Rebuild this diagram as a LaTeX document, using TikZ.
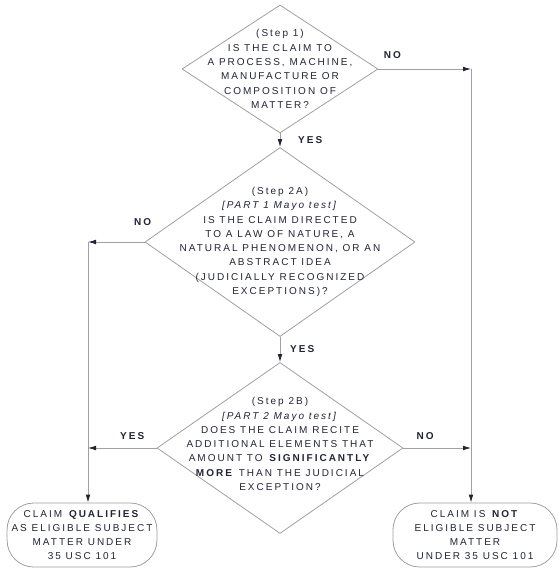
\documentclass[tikz,border=0pt]{standalone}
\usepackage{fontspec}
\setmainfont[LetterSpace=20]{Liberation Sans}
\usetikzlibrary{arrows.meta,positioning,shapes.geometric}
\definecolor{flowgray}{RGB}{160,160,160}
\definecolor{flowink}{RGB}{35,35,55}
\tikzset{
 decision/.style={draw=flowgray,shape=diamond,inner sep=0pt,line width=.6pt},
 qtext/.style={align=center,font=\fontsize{7.5}{10.7}\selectfont,text=flowink},
 endbox/.style={draw=flowgray,rounded corners=20pt,minimum height=48pt,
  line width=.6pt,align=center,font=\fontsize{7.5}{10.7}\selectfont,text=flowink},
 flow/.style={draw=flowgray,line width=.6pt,
  -{Latex[color=flowink,length=6pt,width=3.5pt]}},
 ans/.style={font=\bfseries\fontsize{7.5}{9}\selectfont,text=flowink},
}

\begin{document}
\begin{tikzpicture}[x=.75pt,y=-.75pt,line cap=round,line join=round]
 \useasboundingbox (0,0) rectangle (558,574);
 \node[decision,minimum width=147pt,minimum height=96pt,
  label={[qtext]center:{(Step 1)\\IS THE CLAIM TO\\A PROCESS, MACHINE,\\
  MANUFACTURE OR\\COMPOSITION OF\\MATTER?}}] (s1) at (280,69) {};
 \node[decision,minimum width=202.5pt,minimum height=141.75pt,
  label={[qtext]center:{(Step 2A)\\\textit{[PART 1 Mayo test]}\\
  IS THE CLAIM DIRECTED\\TO A LAW OF NATURE, A\\NATURAL PHENOMENON, OR AN\\
  ABSTRACT IDEA\\(JUDICIALLY RECOGNIZED\\EXCEPTIONS)?}}] (s2a) at (280,242) {};
 \node[decision,minimum width=184.5pt,minimum height=128.25pt,
  label={[qtext,yshift=3pt]center:{(Step 2B)\\\textit{[PART 2 Mayo test]}\\
  DOES THE CLAIM RECITE\\ADDITIONAL ELEMENTS THAT\\
  AMOUNT TO \textbf{SIGNIFICANTLY}\\\textbf{MORE} THAN THE JUDICIAL\\
  EXCEPTION?}}] (s2b) at (280,448) {};
 \node[endbox,minimum width=108pt] (elig) at (82,535)
  {CLAIM \textbf{QUALIFIES}\\AS ELIGIBLE SUBJECT\\MATTER UNDER\\35 USC 101};
 \node[endbox,minimum width=123pt] (inelig) at (475,535)
  {CLAIM IS \textbf{NOT}\\ELIGIBLE SUBJECT\\MATTER\\UNDER 35 USC 101};
 \coordinate (nocorner) at (471,69);
 \coordinate (excorner) at (88,242);
 % yes branches down the middle
 \draw[flow] (s1.south) -- (s2a.north) node[ans,midway,right=10pt] {YES};
 \draw[flow] (s2a.south) -- (s2b.north) node[ans,midway,right=4pt] {YES};
 % no branches
 \draw[flow] (s1.east) -- (nocorner) node[ans,pos=.15,above=4.5pt] {NO};
 \draw[flow] (nocorner) -- (nocorner |- inelig.north);
 \draw[flow] (s2b.east) -- (s2b.east -| nocorner)
  node[ans,pos=.32,above=3pt] {NO};
 \draw[flow] (s2a.west) -- (excorner) node[ans,pos=.035,above=9pt] {NO};
 \draw[flow] (excorner) -- (excorner |- elig.north);
 \draw[flow] (s2b.west) -- (s2b.west -| excorner)
  node[ans,pos=.355,above=3pt] {YES};
\end{tikzpicture}
\end{document}
